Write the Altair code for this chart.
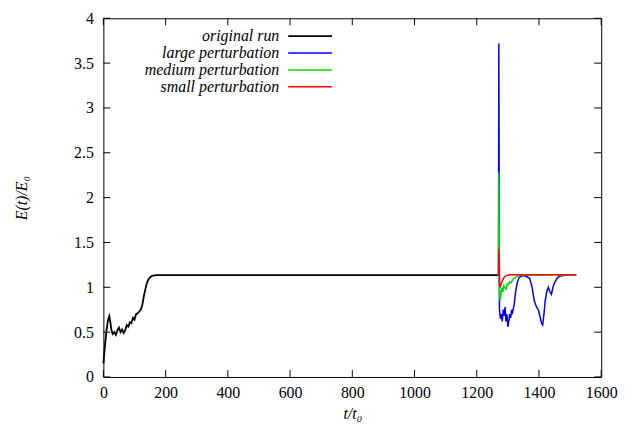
import altair as alt
import pandas as pd

# ---- data ----
orig_t = [0, 5, 10, 15, 19, 22, 26, 30, 35, 40, 45, 50, 55, 60, 65, 70, 75, 80, 85, 90,
          95, 100, 105, 110, 115, 120, 125, 130, 135, 140, 145, 150, 155, 160, 170, 200, 1272]
orig_e = [0.15, 0.35, 0.52, 0.64, 0.68, 0.62, 0.52, 0.48, 0.50, 0.47, 0.52, 0.55, 0.50, 0.53,
          0.49, 0.52, 0.58, 0.56, 0.61, 0.60, 0.66, 0.64, 0.70, 0.71, 0.73, 0.75, 0.80, 0.90,
          0.98, 1.05, 1.09, 1.11, 1.125, 1.13, 1.135, 1.135, 1.135]

large_t = [1270, 1271, 1273, 1276, 1279, 1282, 1285, 1288, 1291, 1294, 1297, 1300, 1303, 1306,
           1309, 1312, 1315, 1320, 1325, 1330, 1335, 1340, 1350, 1360, 1370, 1378, 1385, 1392,
           1398, 1403, 1408, 1412, 1416, 1420, 1425, 1430, 1435, 1440, 1445, 1450, 1458, 1465,
           1475, 1490, 1520]
large_e = [1.135, 3.72, 0.75, 0.65, 0.70, 0.62, 0.75, 0.68, 0.78, 0.62, 0.70, 0.56, 0.62, 0.70,
           0.66, 0.75, 0.72, 0.80, 0.95, 1.05, 1.10, 1.12, 1.13, 1.12, 1.10, 1.00, 0.85, 0.78,
           0.75, 0.68, 0.60, 0.58, 0.70, 0.85, 0.95, 1.00, 0.95, 0.92, 1.00, 1.05, 1.10, 1.12,
           1.13, 1.14, 1.14]

medium_t = [1270, 1271, 1273, 1275, 1278, 1281, 1284, 1287, 1290, 1294, 1298, 1302, 1306, 1310,
            1315, 1320, 1328, 1340, 1520]
medium_e = [1.135, 2.28, 1.00, 0.85, 0.92, 1.00, 0.95, 1.02, 1.00, 0.98, 1.04, 1.03, 1.06, 1.05,
            1.08, 1.10, 1.12, 1.135, 1.14]

small_t = [1270, 1271, 1273, 1275, 1278, 1282, 1286, 1290, 1296, 1305, 1520]
small_e = [1.135, 1.43, 1.05, 1.00, 1.03, 1.07, 1.10, 1.12, 1.13, 1.14, 1.14]

series_names = ["original run", "large perturbation", "medium perturbation", "small perturbation"]
series_colors = ["#000000", "#0000ff", "#00dd00", "#ff0000"]
series_widths = [1.8, 1.5, 1.5, 1.5]
series_data = [(orig_t, orig_e), (large_t, large_e), (medium_t, medium_e), (small_t, small_e)]

x_ticks = [0, 200, 400, 600, 800, 1000, 1200, 1400, 1600]
y_ticks = [0, 0.5, 1, 1.5, 2, 2.5, 3, 3.5, 4]

W, H = 501, 361
FONT = "Liberation Serif"

xs = alt.Scale(domain=[0, 1600], nice=False)
ys = alt.Scale(domain=[0, 4], nice=False)
x_axis = alt.Axis(values=x_ticks, title="t/t₀", format="d", labelFlush=False,
                  titleFontStyle="italic", titleFontWeight="normal")
y_axis = alt.Axis(values=y_ticks, title="E(t)/E₀", format="~g", labelFlush=False,
                  titleFontStyle="italic", titleFontWeight="normal")

layers = []
for i, (name, (t, e)) in enumerate(zip(series_names, series_data)):
    df = pd.DataFrame({"t": t, "E": e, "series": name})
    layers.append(
        alt.Chart(df).mark_line(color=series_colors[i], strokeWidth=series_widths[i]).encode(
            x=alt.X("t:Q", scale=xs, axis=x_axis),
            y=alt.Y("E:Q", scale=ys, axis=y_axis),
            order="t:Q",
        )
    )

# inward ticks on all four sides
xt = pd.DataFrame({"t": x_ticks})
yt = pd.DataFrame({"E": y_ticks})
TL = 7
layers.append(alt.Chart(xt).mark_rule(color="black", strokeWidth=1).encode(
    x=alt.X("t:Q", scale=xs, axis=x_axis), y=alt.value(H), y2=alt.value(H - TL)))
layers.append(alt.Chart(xt).mark_rule(color="black", strokeWidth=1).encode(
    x=alt.X("t:Q", scale=xs, axis=x_axis), y=alt.value(0), y2=alt.value(TL)))
layers.append(alt.Chart(yt).mark_rule(color="black", strokeWidth=1).encode(
    y=alt.Y("E:Q", scale=ys, axis=y_axis), x=alt.value(0), x2=alt.value(TL)))
layers.append(alt.Chart(yt).mark_rule(color="black", strokeWidth=1).encode(
    y=alt.Y("E:Q", scale=ys, axis=y_axis), x=alt.value(W), x2=alt.value(W - TL)))

# legend (gnuplot style: text right-aligned, sample line to the right)
for i, name in enumerate(series_names):
    ly = 18 + 17 * i
    ldf = pd.DataFrame({"label": [name]})
    layers.append(alt.Chart(ldf).mark_text(
        align="right", baseline="middle", font=FONT, fontStyle="italic", fontSize=16, color="black"
    ).encode(text="label:N", x=alt.value(177), y=alt.value(ly)))
    layers.append(alt.Chart(ldf).mark_rule(color=series_colors[i], strokeWidth=series_widths[i]).encode(
        x=alt.value(186), x2=alt.value(230), y=alt.value(ly)))

chart = alt.layer(*layers).properties(
    width=W, height=H,
    autosize=alt.AutoSizeParams(type="none"),
    padding={"left": 96, "top": 9, "right": 30, "bottom": 50},
).configure_view(stroke="black", strokeWidth=1).configure_axis(
    domain=False, ticks=False, grid=False,
    labelFont=FONT, labelFontSize=16, labelColor="black",
    titleFont=FONT, titleFontSize=16, titleColor="black",
).configure_axisX(labelPadding=8, titlePadding=5).configure_axisY(labelPadding=10, titlePadding=44)

chart.save("out.html", embed_options={"renderer": "svg", "actions": False})
